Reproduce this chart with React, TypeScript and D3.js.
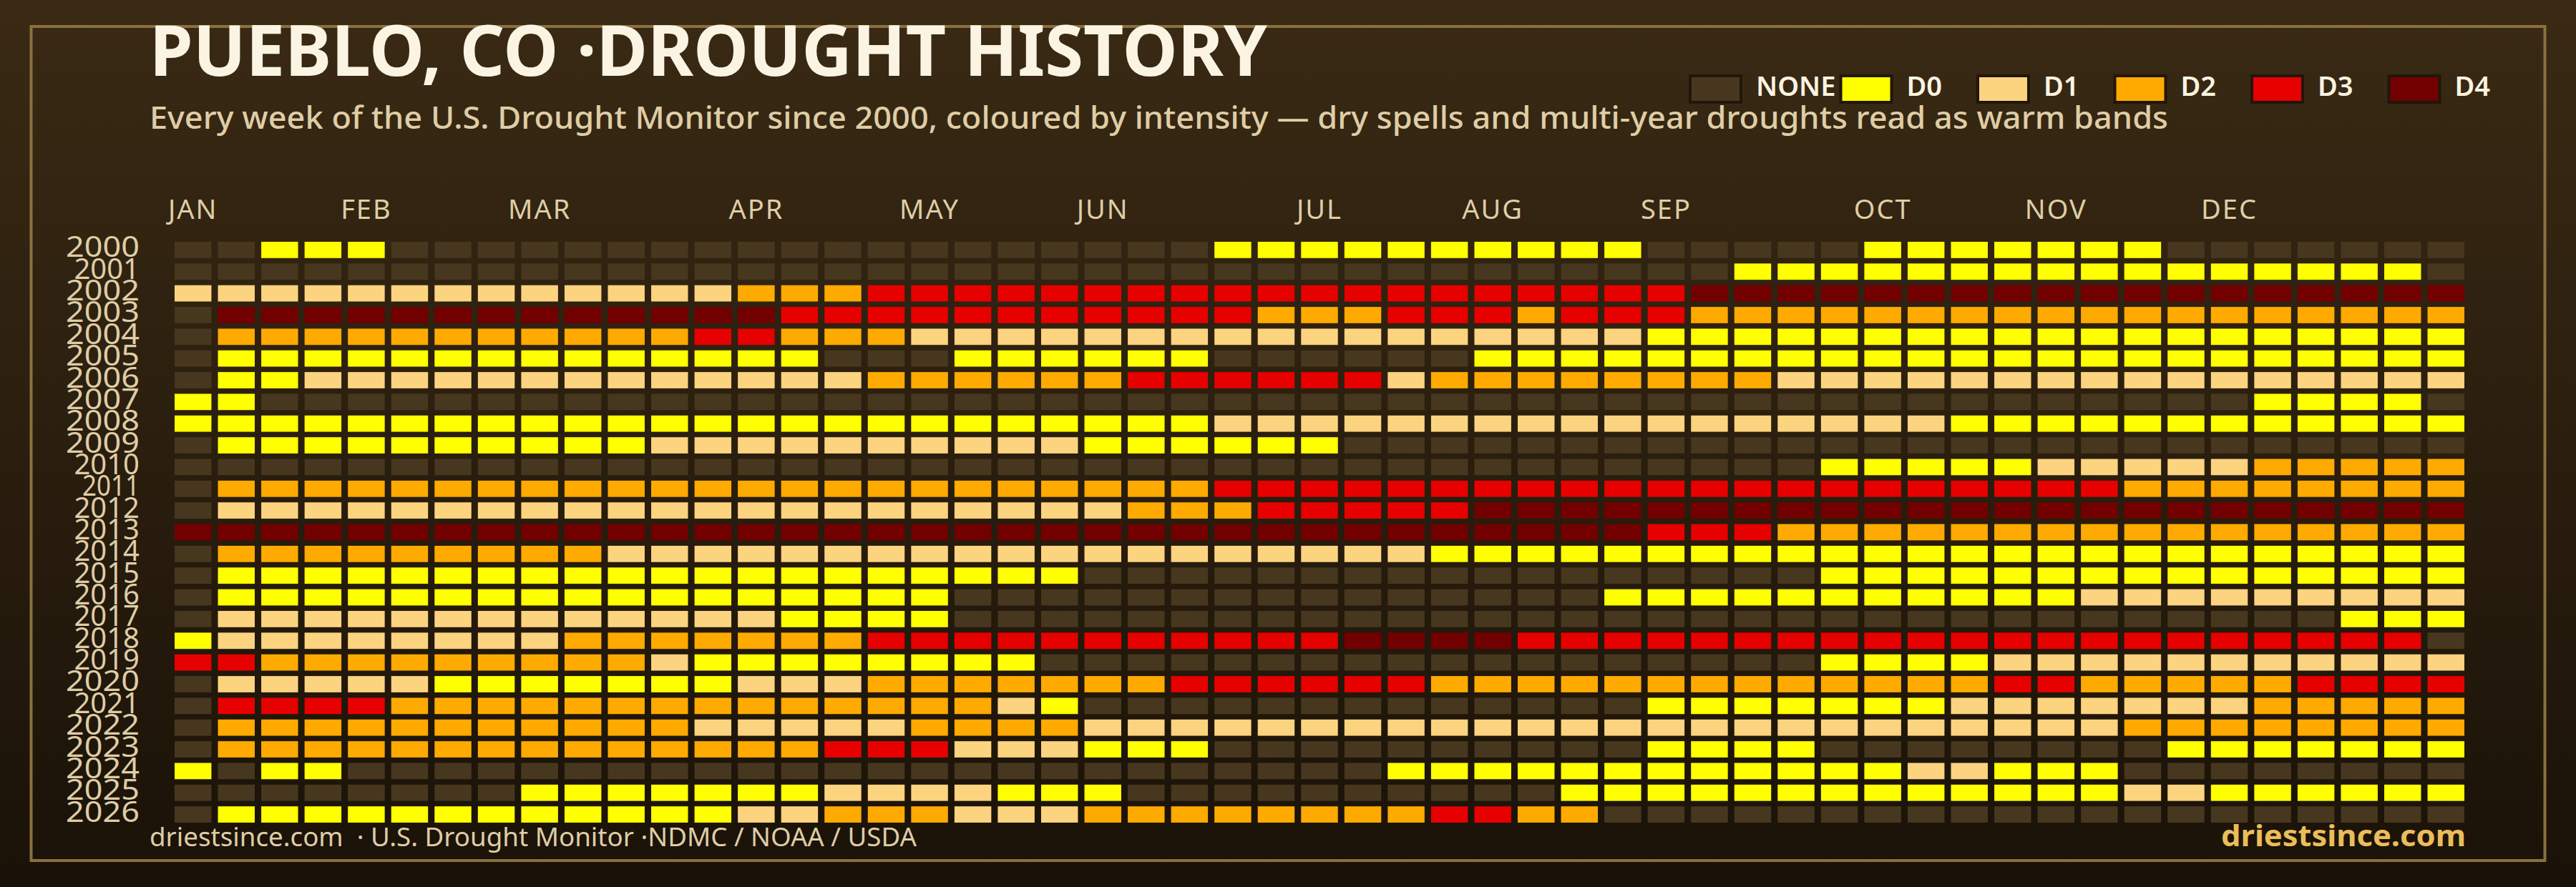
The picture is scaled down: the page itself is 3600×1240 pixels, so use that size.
import React, { useEffect, useRef } from "react";
import * as d3 from "d3";

const TITLE = "PUEBLO, CO ·DROUGHT HISTORY";
const SUBTITLE =
  "Every week of the U.S. Drought Monitor since 2000, coloured by intensity — dry spells and multi-year droughts read as warm bands";
const FOOTER = "driestsince.com  · U.S. Drought Monitor ·NDMC / NOAA / USDA";
const BRAND = "driestsince.com";
const FONT = "'Noto Sans', sans-serif";

const years = d3.range(2000, 2027).map(String);
const weeks = d3.range(53);

const months = ["JAN", "FEB", "MAR", "APR", "MAY", "JUN", "JUL", "AUG", "SEP", "OCT", "NOV", "DEC"];
// week column that holds the first of each month
const monthWeeks = [0, 4, 8, 13, 17, 21, 26, 30, 34, 39, 43, 47];

const levels = [".", "0", "1", "2", "3", "4"];
const levelNames = ["NONE", "D0", "D1", "D2", "D3", "D4"];
const levelColors = ["#47371e", "#ffff00", "#fcd37f", "#ffaa00", "#e60000", "#730000"];

// one string per year, one character per week (. = none, 0-4 = D0-D4), spaced every 10 weeks
const weekly = [
  "..000..... .......... ....000000 0000.....0 000000.... ...",
  ".......... .......... .......... ......0000 0000000000 00.",
  "1111111111 1112223333 3333333333 3333344444 4444444444 444",
  ".444444444 4444333333 3333322233 3233322222 2222222222 222",
  ".222222222 2233222111 1111111111 1111000000 0000000000 000",
  ".000000000 00000...00 0000...... 0000000000 0000000000 000",
  ".001111111 1111112222 2233333312 2222222111 1111111111 111",
  "00........ .......... .......... .......... ........00 00.",
  "0000000000 0000000000 0000111111 1111111111 1000000000 000",
  ".000000000 0111111111 1000000... .......... .......... ...",
  ".......... .......... .......... ........00 0001111122 222",
  ".222222222 2222222222 2222333333 3333333333 3333322222 222",
  ".111111111 1111111111 1122233333 4444444444 4444444444 444",
  "4444444444 4444444444 4444444444 4444333222 2222222222 222",
  ".222222222 1111111111 1111111110 0000000000 0000000000 000",
  ".000000000 0000000000 0......... ........00 0000000000 000",
  ".000000000 00000000.. .......... ...0000000 0000111111 111",
  ".111111111 11110000.. .......... .......... .......... 000",
  "0111111112 2222223333 3333333444 4333333333 3333333333 33.",
  "3322222222 2100000000 .......... ........00 0011111111 111",
  ".111110000 0001112222 2223333332 2222222222 2233222223 333",
  ".333322222 2222222221 0......... ....000000 0111111122 222",
  ".222222222 2211111222 2111111111 1111111111 1111122222 222",
  ".222222222 2222233311 1000...... ....0000.. ......0000 000",
  "0.00...... .......... ........00 0000000000 11000..... ...",
  "........00 0000011110 00........ ..00000000 0000011000 000",
  ".000000000 0001122211 1222222223 322....... .......... ...",
].map((row) => row.replace(/ /g, ""));

const App: React.FC = () => {
  const svgRef = useRef<SVGSVGElement>(null);

  useEffect(() => {
    const svg = d3.select(svgRef.current);
    svg.selectAll("*").remove();

    const width = 3600;
    const height = 1240;

    // background
    const grad = svg
      .append("defs")
      .append("linearGradient")
      .attr("id", "bg")
      .attr("x1", 0)
      .attr("x2", 0)
      .attr("y1", 0)
      .attr("y2", 1);
    grad.append("stop").attr("offset", "0%").attr("stop-color", "#3a2a14");
    grad.append("stop").attr("offset", "100%").attr("stop-color", "#1a1208");
    svg.append("rect").attr("width", width).attr("height", height).attr("fill", "url(#bg)");
    svg
      .append("rect")
      .attr("x", 43.5)
      .attr("y", 37)
      .attr("width", 3513)
      .attr("height", 1166)
      .attr("fill", "none")
      .attr("stroke", "#8b7040")
      .attr("stroke-width", 4);

    const x = d3.scaleBand<number>().domain(weeks).range([244, 3444]).paddingInner(0.15);
    const y = d3.scaleBand<string>().domain(years).range([338, 1150]).paddingInner(0.25);
    const color = d3.scaleOrdinal<string, string>().domain(levels).range(levelColors);

    // cells
    svg
      .append("g")
      .selectAll("g")
      .data(weekly)
      .join("g")
      .attr("transform", (_, i) => `translate(0,${y(years[i])})`)
      .selectAll("rect")
      .data((row) => row.split(""))
      .join("rect")
      .attr("x", (_, i) => x(i) as number)
      .attr("width", x.bandwidth())
      .attr("height", y.bandwidth())
      .attr("fill", (d) => color(d));

    // year labels, the reference font has a narrow 1 so stretch each label to suit
    svg
      .append("g")
      .attr("font-family", FONT)
      .selectAll("text")
      .data(years)
      .join("text")
      .attr("x", 195)
      .attr("y", (d) => (y(d) as number) + y.bandwidth() / 2 + 10)
      .attr("text-anchor", "end")
      .attr("font-size", 40)
      .attr("fill", "#dfcda6")
      .attr("textLength", (d) => 103 - 11.5 * d.split("1").slice(1).length)
      .attr("lengthAdjust", "spacingAndGlyphs")
      .text((d) => d);

    // month labels
    svg
      .append("g")
      .attr("font-family", FONT)
      .selectAll("text")
      .data(months)
      .join("text")
      .attr("x", (_, i) => (x(monthWeeks[i]) as number) + x.bandwidth() / 2)
      .attr("y", 306)
      .attr("text-anchor", "middle")
      .attr("font-size", 38)
      .attr("letter-spacing", 2)
      .attr("fill", "#dfcda6")
      .text((d) => d);

    // title block
    const label = (
      s: string,
      px: number,
      py: number,
      size: number,
      fill: string,
      weight: number,
      len: number
    ) =>
      svg
        .append("text")
        .attr("x", px)
        .attr("y", py)
        .attr("font-family", FONT)
        .attr("font-size", size)
        .attr("font-weight", weight)
        .attr("fill", fill)
        .attr("textLength", len)
        .attr("lengthAdjust", "spacingAndGlyphs")
        .attr("xml:space", "preserve")
        .style("white-space", "pre")
        .text(s);

    label(TITLE, 209, 106, 98, "#fbf4e3", 700, 1562);
    label(SUBTITLE, 209, 180, 44, "#dfcda6", 500, 2821);
    label(FOOTER, 209, 1183, 36, "#dfcda6", 400, 1072);
    label(BRAND, 3104, 1183, 42, "#eabd5a", 700, 342);

    // legend
    let lx = 2360;
    levelNames.forEach((name, i) => {
      svg
        .append("rect")
        .attr("x", lx + 2)
        .attr("y", 106)
        .attr("width", 71)
        .attr("height", 37)
        .attr("fill", levelColors[i])
        .attr("stroke", "#20160a")
        .attr("stroke-width", 4);
      svg
        .append("text")
        .attr("x", lx + 94)
        .attr("y", 134)
        .attr("font-family", FONT)
        .attr("font-size", 38)
        .attr("font-weight", 600)
        .attr("fill", "#fbf4e3")
        .text(name);
      lx += name === "NONE" ? 210.5 : 191.5;
    });
  }, []);

  return (
    <svg
      ref={svgRef}
      width={3600}
      height={1240}
      style={{ position: "absolute", left: 0, top: 0, display: "block" }}
    ></svg>
  );
};

export default App;
